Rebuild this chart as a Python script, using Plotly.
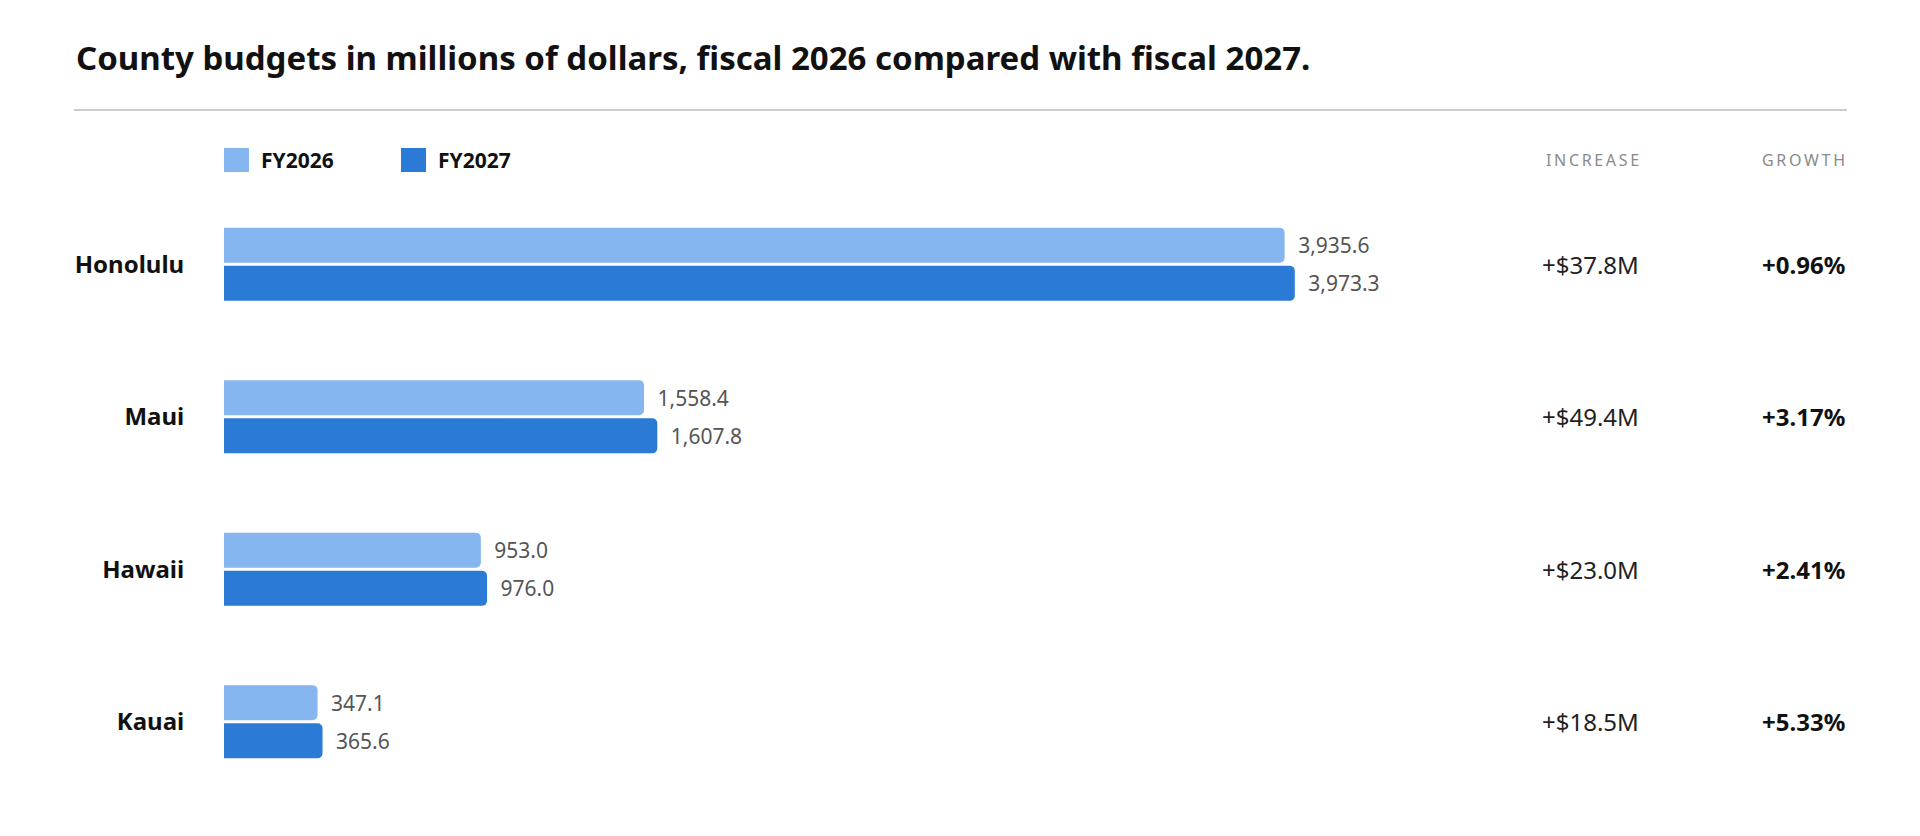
import plotly.graph_objects as go

counties = ["Honolulu", "Maui", "Hawaii", "Kauai"]
fy2026 = [3935.6, 1558.4, 953.0, 347.1]
fy2027 = [3973.3, 1607.8, 976.0, 365.6]
increase = ["+$37.8M", "+$49.4M", "+$23.0M", "+$18.5M"]
growth = ["+0.96%", "+3.17%", "+2.41%", "+5.33%"]
series = [("FY2026", fy2026, "#86b6f0"), ("FY2027", fy2027, "#2b7bd6")]

W, H = 1920, 836
FONT = "Noto Sans"


def px(x):
    return x / W


def py(y):
    return 1 - y / H


fig = go.Figure()
for name, vals, color in series:
    fig.add_trace(go.Bar(
        y=counties, x=vals, name=name, orientation="h",
        marker=dict(color=color, line=dict(width=0)),
        text=[f"\u2002{v:,.1f}" for v in vals], textposition="outside",
        textfont=dict(size=21, color="#555555", family=FONT),
        cliponaxis=False, hoverinfo="skip", showlegend=False,
    ))

INC_X, GRO_X = 1633, 1839
for c, inc, g in zip(counties, increase, growth):
    fig.add_annotation(x=px(INC_X), xref="paper", y=c, yref="y", text=inc, showarrow=False,
                       xanchor="right", font=dict(size=24, color="#222222", family=FONT))
    fig.add_annotation(x=px(GRO_X), xref="paper", y=c, yref="y", text=f"<b>{g}</b>", showarrow=False,
                       xanchor="right", font=dict(size=24, color="#111111", family=FONT))

for label, xr in [("INCREASE", INC_X), ("GROWTH", GRO_X)]:
    fig.add_annotation(x=px(xr), xref="paper", y=py(152), yref="paper", text="\u2009".join(label),
                       showarrow=False, xanchor="right", yanchor="middle",
                       font=dict(size=16, color="#8a8a8a", family=FONT))

# legend drawn by hand: rounded squares + bold labels
for (name, _, color), x0 in zip(series, [216, 393]):
    fig.add_shape(type="rect", xref="paper", yref="paper", x0=px(x0), x1=px(x0 + 25),
                  y0=py(164), y1=py(140), fillcolor=color, line=dict(width=0),
                  layer="above")
    fig.add_annotation(x=px(x0 + 35), xref="paper", y=py(152), yref="paper", text=f"<b>{name}</b>",
                       showarrow=False, xanchor="left", yanchor="middle",
                       font=dict(size=21, color="#111111", family=FONT))

fig.add_annotation(x=px(66), xref="paper", y=py(49), yref="paper",
                   text="<b>County budgets in millions of dollars, fiscal 2026 compared with fiscal 2027.</b>",
                   showarrow=False, xanchor="left", yanchor="middle",
                   font=dict(size=33, color="#111111", family=FONT))
fig.add_shape(type="line", xref="paper", yref="paper", x0=px(66), x1=px(GRO_X),
              y0=py(102), y1=py(102), line=dict(color="#cccccc", width=2))

fig.update_layout(
    width=W, height=H, margin=dict(l=0, r=0, t=0, b=0),
    paper_bgcolor="white", plot_bgcolor="white",
    barmode="group", bargap=0.5, bargroupgap=0.08, barcornerradius=5,
    font=dict(family=FONT),
    xaxis=dict(domain=[px(216), px(1294)], range=[0, 4000], visible=False),
    yaxis=dict(domain=[py(790), py(180)], range=[3.5, -0.5], showgrid=False,
               zeroline=False, showline=False, ticks="outside", ticklen=34, tickcolor="white",
               tickfont=dict(size=24, color="#111111", family=FONT),
               tickvals=counties, ticktext=[f"<b>{c}</b>" for c in counties]),
)

fig.write_html("out.html")
